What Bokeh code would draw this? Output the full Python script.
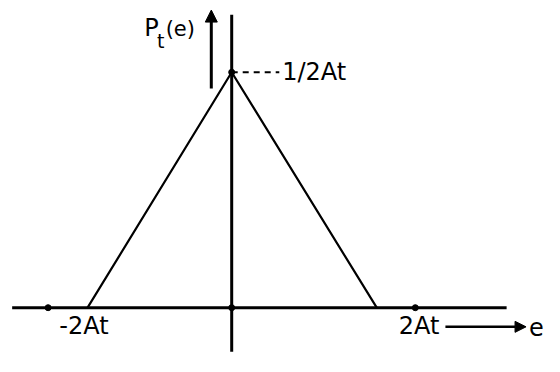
from bokeh.plotting import figure
from bokeh.models import Range1d, Arrow, NormalHead, Label
from bokeh.embed import file_html
from bokeh.resources import INLINE

# ---- data (e in units of At, P in units of 1/At) ----
tri_e = [-1.57, 0.0, 1.58]          # triangle corners along e
tri_p = [0.0, 0.5, 0.0]             # peak value 1/2At
tick_e = [-2.0, 0.0, 2.0]           # axis tick marks
tick_labels = ["-2At", "2At"]
tick_label_e = [-1.61, 2.04]
peak_label = "1/2At"
y_label = "P"
y_label_sub = "t"
y_label_arg = "(e)"
x_label = "e"

# ---- layout: drawing designed on a 560x372 canvas, shown at 544x356 ----
W, H = 544, 356
REF_W, REF_H = 560, 372
SX, SY = 94.5, 492.0        # canvas px per data unit
X0, Y0 = 238, 321           # origin on the canvas (px from top-left)

def dx(px):
    return px / SX

def dy(px):
    return px / SY

p = figure(width=W, height=H, output_backend="svg", toolbar_location=None,
           x_range=Range1d(-X0 / SX, (REF_W - X0) / SX),
           y_range=Range1d(-(REF_H - Y0) / SY, Y0 / SY),
           x_axis_type=None, y_axis_type=None, min_border=0)
p.outline_line_color = None
p.grid.visible = False
p.background_fill_color = "white"

# axes lines
p.line([-dx(226), dx(283)], [0, 0], line_color="black", line_width=3)
p.line([0, 0], [-dy(46), dy(306)], line_color="black", line_width=3)

# triangle
p.line(tri_e, tri_p, line_color="black", line_width=2.2)

# dashed line to peak label
p.line([0, dx(49)], [tri_p[1], tri_p[1]], line_color="black", line_width=2,
       line_dash="6 5")

# tick dots
p.scatter(tick_e, [0] * len(tick_e), size=6, color="black")
p.scatter([0], [tri_p[1]], size=6, color="black")

# arrows
p.add_layout(Arrow(end=NormalHead(size=12, fill_color="black", line_color="black"),
                   x_start=-dx(21), y_start=dy(229), x_end=-dx(21), y_end=dy(311),
                   line_color="black", line_width=3))
p.add_layout(Arrow(end=NormalHead(size=11, fill_color="black", line_color="black"),
                   x_start=dx(220), y_start=-dy(20), x_end=dx(303), y_end=-dy(20),
                   line_color="black", line_width=2.5))

FONT = "DejaVu Sans"
FS = "24px"
for lab, xe in zip(tick_labels, tick_label_e):
    p.add_layout(Label(x=xe, y=-dy(19), text=lab, text_align="center",
                       text_baseline="middle", text_font=FONT,
                       text_font_size=FS, text_color="black"))

p.add_layout(Label(x=dx(52), y=tri_p[1], text=peak_label, text_align="left",
                   text_baseline="middle", text_font=FONT,
                   text_font_size=FS, text_color="black"))

p.add_layout(Label(x=dx(306), y=-dy(20), text=x_label, text_align="left",
                   text_baseline="middle", text_font=FONT,
                   text_font_size=FS, text_color="black"))

p.add_layout(Label(x=-dx(90), y=dy(292), text=y_label, text_align="left",
                   text_baseline="middle", text_font=FONT,
                   text_font_size="24px", text_color="black"))
p.add_layout(Label(x=-dx(77), y=dy(279), text=y_label_sub, text_align="left",
                   text_baseline="middle", text_font=FONT,
                   text_font_size="19px", text_color="black"))
p.add_layout(Label(x=-dx(68), y=dy(291), text=y_label_arg, text_align="left",
                   text_baseline="middle", text_font=FONT,
                   text_font_size="21px", text_color="black"))

open("out.html", "w").write(file_html(p, INLINE))
